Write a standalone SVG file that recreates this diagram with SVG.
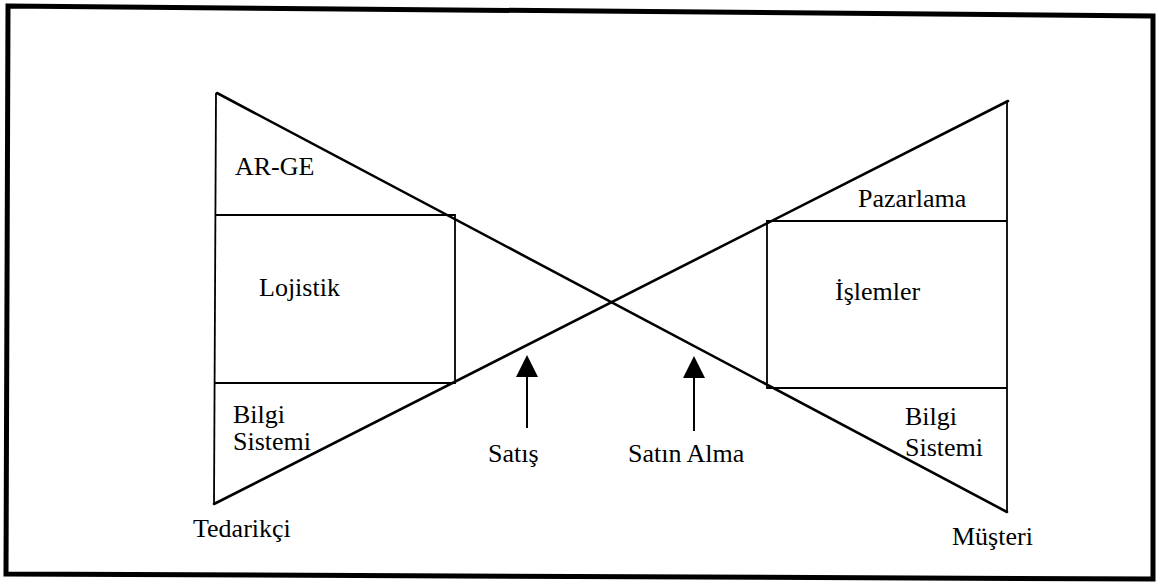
<svg xmlns="http://www.w3.org/2000/svg" width="1156" height="584" viewBox="0 0 1156 584">
<style>
.lbl{font-family:"Liberation Serif","Times New Roman",serif;font-size:26px;fill:#000}
.thick{stroke:#000;stroke-width:2.6;fill:none;stroke-linecap:round}
.thin{stroke:#000;stroke-width:1.8;fill:none}
.arrow{stroke:#000;stroke-width:2;fill:none}
</style>
<defs>
<marker id="ah" markerUnits="userSpaceOnUse" markerWidth="22" markerHeight="22" viewBox="0 0 20 20" refX="0" refY="10" orient="auto">
<path d="M0,0 L20,10 L0,20 Z" fill="#000"/>
</marker>
</defs>
<rect width="1156" height="584" fill="#fff"/>
<g id="frame">
<polygon points="8,6 1153,16 1153,579 6,574" fill="none" stroke="#000" stroke-width="5"/>
</g>
<g id="cross-lines">
<line class="thick" x1="217" y1="93" x2="1007" y2="512"/>
<line class="thick" x1="214" y1="504" x2="1008" y2="101"/>
</g>
<g id="left-funnel">
<line class="thin" x1="216" y1="93" x2="214" y2="504"/>
<polyline class="thin" points="216,215 455,215 455,383 215,383"/>
</g>
<g id="right-funnel">
<line class="thin" x1="1007" y1="101" x2="1007" y2="512"/>
<polyline class="thin" points="1007,221 767,221 767,388 1007,388"/>
</g>
<g id="node-arge"><text class="lbl" x="235" y="175">AR-GE</text></g>
<g id="node-lojistik"><text class="lbl" x="259" y="296">Lojistik</text></g>
<g id="node-bilgi-left"><text class="lbl" x="233" y="423">Bilgi</text><text class="lbl" x="233" y="450">Sistemi</text></g>
<g id="node-tedarikci"><text class="lbl" x="193" y="537">Tedarikçi</text></g>
<g id="node-pazarlama"><text class="lbl" x="858" y="207">Pazarlama</text></g>
<g id="node-islemler"><text class="lbl" x="835" y="300">İşlemler</text></g>
<g id="node-bilgi-right"><text class="lbl" x="905" y="425">Bilgi</text><text class="lbl" x="905" y="456">Sistemi</text></g>
<g id="node-musteri"><text class="lbl" x="952" y="545">Müşteri</text></g>
<g id="node-satis"><text class="lbl" x="488" y="462">Satış</text></g>
<g id="node-satin-alma"><text class="lbl" x="628" y="462">Satın Alma</text></g>
<g id="connectors">
<line class="arrow" x1="527" y1="428" x2="527" y2="377" marker-end="url(#ah)"/>
<line class="arrow" x1="694" y1="431" x2="694" y2="378" marker-end="url(#ah)"/>
</g>
</svg>
